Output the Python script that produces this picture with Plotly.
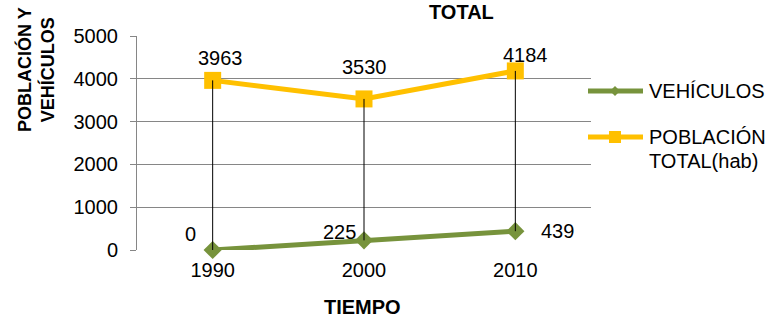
import plotly.graph_objects as go

# ---- data ----
years = ["1990", "2000", "2010"]
vehiculos = [0, 225, 439]
poblacion = [3963, 3530, 4184]
y_ticks = [0, 1000, 2000, 3000, 4000, 5000]

# ---- style ----
W, H = 779, 320
L, R, T, B = 137, 591, 36, 250
PW, PH = R - L, B - T
GREEN = "#77933C"
YELLOW = "#FFC000"
FONT = "Liberation Sans, Arial, sans-serif"

def px(x, y):
    return (x - L) / PW, (B - y) / PH

fig = go.Figure()

fig.add_trace(go.Scatter(
    x=years, y=poblacion, mode="lines+markers", name="POBLACIÓN TOTAL(hab)",
    line=dict(color=YELLOW, width=5),
    marker=dict(symbol="square", size=17, color=YELLOW),
    showlegend=False, cliponaxis=False,
))
fig.add_trace(go.Scatter(
    x=years, y=vehiculos, mode="lines+markers", name="VEHÍCULOS",
    line=dict(color=GREEN, width=5),
    marker=dict(symbol="diamond", size=14, color=GREEN),
    showlegend=False, cliponaxis=False,
))
# high-low (drop) lines between the two series
for c, v, p in zip(years, vehiculos, poblacion):
    fig.add_trace(go.Scatter(
        x=[c, c], y=[v, p], mode="lines",
        line=dict(color="black", width=1),
        showlegend=False, hoverinfo="skip", cliponaxis=False,
    ))

annotations = []
# data labels (category axis: annotation x uses category index)
pop_shift = [(8, 22), (0, 32), (10, 16)]
veh_shift = [(-22, 16), (-25, 8), (42, 0)]
for i, (p, (dx, dy)) in enumerate(zip(poblacion, pop_shift)):
    annotations.append(dict(x=i, y=p, xref="x", yref="y", text=str(p), showarrow=False,
                            xshift=dx, yshift=dy, font=dict(size=20, color="black", family=FONT)))
for i, (v, (dx, dy)) in enumerate(zip(vehiculos, veh_shift)):
    annotations.append(dict(x=i, y=v, xref="x", yref="y", text=str(v), showarrow=False,
                            xshift=dx, yshift=dy, font=dict(size=20, color="black", family=FONT)))

# titles
x0, y0 = px(461, 0)
annotations.append(dict(x=x0, y=y0, xref="paper", yref="paper", text="<b>TOTAL</b>",
                        showarrow=False, xanchor="center", yanchor="top", borderpad=0,
                        font=dict(size=20, color="black", family=FONT)))
x0, y0 = px(362, 307)
annotations.append(dict(x=x0, y=y0, xref="paper", yref="paper", text="<b>TIEMPO</b>",
                        showarrow=False, xanchor="center", yanchor="middle",
                        font=dict(size=20, color="black", family=FONT)))
x0, y0 = px(36, 70)
annotations.append(dict(x=x0, y=y0, xref="paper", yref="paper",
                        text="<b>POBLACIÓN Y<br>VEHÍCULOS</b>", textangle=-90,
                        showarrow=False, xanchor="center", yanchor="middle",
                        font=dict(size=18, color="black", family=FONT)))

# manual legend
shapes = []
def legend_entry(y, color, symbol, half):
    xa, ya = px(588, y)
    xb, _ = px(643, y)
    shapes.append(dict(type="line", xref="paper", yref="paper", x0=xa, x1=xb, y0=ya, y1=ya,
                       line=dict(color=color, width=5)))
    cx = 615
    if symbol == "diamond":
        pts = [(cx - half, y), (cx, y - half), (cx + half, y), (cx, y + half)]
    else:
        pts = [(cx - half, y - half), (cx + half, y - half), (cx + half, y + half), (cx - half, y + half)]
    path = "M " + " L ".join(f"{px(a, b)[0]},{px(a, b)[1]}" for a, b in pts) + " Z"
    shapes.append(dict(type="path", xref="paper", yref="paper", path=path,
                       fillcolor=color, line=dict(color=color, width=0)))

legend_entry(91, GREEN, "diamond", 5)
legend_entry(137, YELLOW, "square", 6)
for text, y in [("VEHÍCULOS", 91), ("POBLACIÓN", 137), ("TOTAL(hab)", 161)]:
    xa, ya = px(647, y)
    annotations.append(dict(x=xa, y=ya, xref="paper", yref="paper", text=text, showarrow=False,
                            xanchor="left", yanchor="middle",
                            font=dict(size=20, color="black", family=FONT)))

fig.update_layout(
    width=W, height=H,
    margin=dict(l=L, r=W - R, t=T, b=H - B, pad=0),
    paper_bgcolor="white", plot_bgcolor="white",
    font=dict(family=FONT, size=20, color="black"),
    showlegend=False,
    annotations=annotations, shapes=shapes,
    xaxis=dict(type="category", range=[-0.5, 2.5], showgrid=False, zeroline=False,
               showline=False, ticks="", ticklabelstandoff=6,
               tickfont=dict(size=20, color="black", family=FONT)),
    yaxis=dict(range=[0, 5000], tickvals=y_ticks, showgrid=True, gridcolor="#868686",
               gridwidth=1, zeroline=False, showline=True, linecolor="#868686", linewidth=1,
               ticks="outside", ticklen=6, tickcolor="#868686", ticklabelstandoff=8,
               tickfont=dict(size=20, color="black", family=FONT)),
)

fig.write_html("out.html", config={"displayModeBar": False},
               post_script="document.body.style.margin='0';document.body.style.padding='0';document.body.style.overflow='hidden';")
